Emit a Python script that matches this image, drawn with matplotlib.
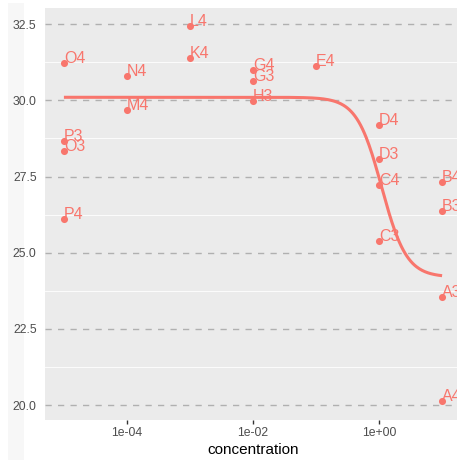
import numpy as np
import matplotlib
matplotlib.use("Agg")
import matplotlib.pyplot as plt
from matplotlib.patches import Rectangle

# ---- data ----
labels = ["O4", "O3", "P3", "P4", "N4", "M4", "L4", "K4", "G4", "G3", "H3",
          "E4", "D4", "D3", "C4", "C3", "B4", "B3", "A3", "A4"]
conc = [1e-5, 1e-5, 1e-5, 1e-5, 1e-4, 1e-4, 1e-3, 1e-3, 1e-2, 1e-2, 1e-2,
        1e-1, 1, 1, 1, 1, 10, 10, 10, 10]
response = [31.24, 28.34, 28.66, 26.10, 30.79, 29.68, 32.43, 31.38, 31.01, 30.64, 29.97,
            31.13, 29.20, 28.09, 27.22, 25.40, 27.31, 26.37, 23.55, 20.14]

# fitted log-logistic (4 parameter) model
fit_top = 30.1
fit_bottom = 24.2
fit_ec50 = 1.10
fit_slope = 2.2

xticks = [1e-4, 1e-2, 1e0]
xtick_labels = ["1e-04", "1e-02", "1e+00"]
yticks = [20.0, 22.5, 25.0, 27.5, 30.0, 32.5]
ytick_labels = ["20.0", "22.5", "25.0", "27.5", "30.0", "32.5"]
yminor = [21.25, 23.75, 26.25, 28.75, 31.25]

col = "#F8766D"
W, H = 457, 462
fig = plt.figure(figsize=(W / 100, H / 100), dpi=100)
fig.patch.set_facecolor("white")
strip = Rectangle((8 / W, 2 / H), 16 / W, 457 / H, transform=fig.transFigure,
                  facecolor="#f7f7f7", edgecolor="none", zorder=-10)
fig.add_artist(strip)

ax = fig.add_axes([45 / W, (H - 420) / H, 416 / W, 412 / H])
ax.set_zorder(1)
ax.set_facecolor("#EBEBEB")
ax.set_xscale("log")
ax.set_xlim(10 ** -5.3, 10 ** 1.3)
ax.set_ylim(19.51, 33.03)

for yv in yminor:
    ax.axhline(yv, color="white", lw=0.6, zorder=1)
for yv in yticks:
    ax.axhline(yv, color="#b0b0b0", lw=1.0, ls=(0, (4.5, 4.5)), zorder=1)

xs = np.logspace(-5, 1, 400)
ys = fit_bottom + (fit_top - fit_bottom) / (1 + (xs / fit_ec50) ** fit_slope)
ax.plot(xs, ys, color=col, lw=2.2, zorder=3, solid_capstyle="butt")

ax.scatter(conc, response, s=26, color=col, zorder=4, linewidths=0)
for lab, xv, yv in zip(labels, conc, response):
    ax.text(xv, yv, lab, color=col, fontsize=11.5, ha="left", va="baseline",
            family="Liberation Sans", zorder=5, clip_on=True)

for s in ax.spines.values():
    s.set_visible(False)

ax.set_xticks(xticks)
ax.set_xticklabels(xtick_labels)
ax.xaxis.set_minor_locator(matplotlib.ticker.NullLocator())
ax.set_yticks(yticks)
ax.set_yticklabels(ytick_labels)
ax.tick_params(axis="x", length=3, width=1, color="#333333", labelsize=8.8,
               labelcolor="#4d4d4d", pad=2)
ax.tick_params(axis="y", length=0, labelsize=8.8, labelcolor="#4d4d4d", pad=6)
for t in ax.get_xticklabels() + ax.get_yticklabels():
    t.set_family("Liberation Sans")
ax.set_xlabel("concentration", fontsize=11, family="Liberation Sans", color="black", labelpad=3)

fig.savefig("out.png", dpi=100)
